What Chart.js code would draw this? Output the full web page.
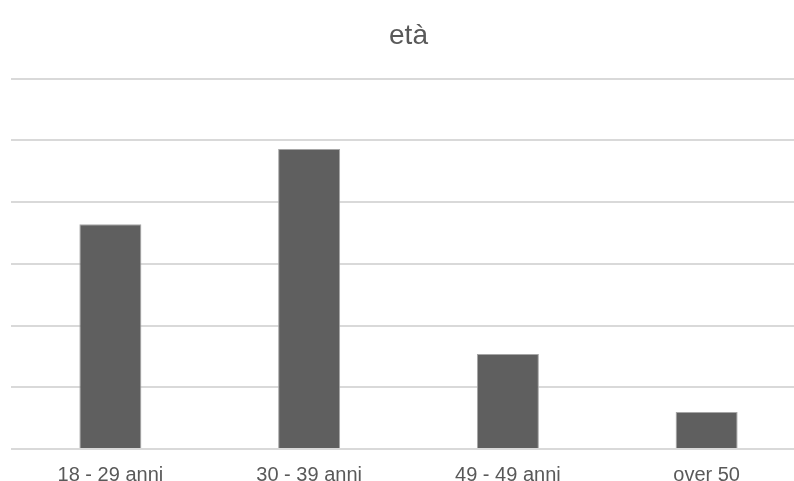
<!DOCTYPE html>
<html>
<head>
<meta charset="utf-8">
<script src="https://cdn.jsdelivr.net/npm/chart.js@4"></script>
<style>
  html, body { margin: 0; padding: 0; background: #fff; overflow: hidden; }
  #wrap { width: 820px; height: 481px; position: relative; }
</style>
</head>
<body>
<div id="wrap"><canvas id="chart"></canvas></div>
<script>
// data
const categories = ['18 - 29 anni', '30 - 39 anni', '49 - 49 anni', 'over 50'];
const values = [18.2, 24.3, 7.7, 3];
const yMax = 30;
const yStep = 5;

const textColor = '#595959';

new Chart(document.getElementById('chart'), {
    type: 'bar',
    data: {
        labels: categories,
        datasets: [{
            label: 'età',
            data: values,
            backgroundColor: '#5f5f5f',
            borderColor: '#a6a6a6',
            borderWidth: 1,
            barPercentage: 0.312,
            categoryPercentage: 1
        }]
    },
    options: {
        responsive: true,
        maintainAspectRatio: false,
        animation: false,
        layout: { padding: { left: 11, right: 14, top: 0, bottom: 0 } },
        plugins: {
            legend: { display: false },
            tooltip: { enabled: false },
            title: {
                display: true,
                text: 'età',
                color: textColor,
                font: { family: 'Liberation Sans, Arial, sans-serif', size: 28, weight: 'normal' },
                padding: { top: 19, bottom: 26 }
            }
        },
        scales: {
            x: {
                grid: { display: false },
                border: { display: false },
                ticks: {
                    color: textColor,
                    font: { family: 'Liberation Sans, Arial, sans-serif', size: 20 },
                    padding: 6,
                    maxRotation: 0
                },
                afterFit: (scale) => { scale.height = 32; }
            },
            y: {
                min: 0,
                max: yMax,
                ticks: { display: false, stepSize: yStep },
                grid: { color: '#d9d9d9', lineWidth: 2, drawTicks: false },
                border: { display: false }
            }
        }
    }
});
</script>
</body>
</html>
